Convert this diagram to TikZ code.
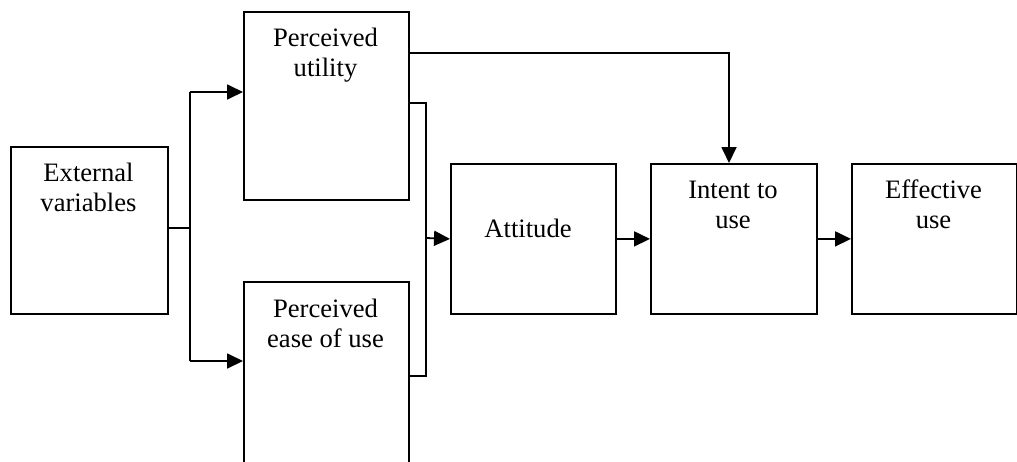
\documentclass[tikz,border=0pt]{standalone}
\usepackage{fontspec}
\setmainfont{Liberation Serif}
\usetikzlibrary{arrows.meta}
\begin{document}
\begin{tikzpicture}[x=0.5pt,y=-0.5pt,
  box/.style={draw, line width=0.9pt, inner sep=0pt, anchor=north west},
  lbl/.style={anchor=base, inner sep=0pt, font=\fontsize{13.3}{15}\selectfont},
  conn/.style={line width=0.9pt},
  arr/.style={conn, -{Triangle[length=8pt,width=7.5pt]}}]
\useasboundingbox (0,0) rectangle (1017,461);
% boxes
\node[box, minimum width=78.5pt, minimum height=83.5pt] (ext) at (10,146) {};
\node[box, minimum width=82.5pt, minimum height=94pt] (pu) at (243,11) {};
\node[box, minimum width=82.5pt, minimum height=91pt] (pe) at (243,281) {};
\node[box, minimum width=82.5pt, minimum height=75pt] (att) at (450,163) {};
\node[box, minimum width=83pt, minimum height=75pt] (int) at (650,163) {};
\node[box, minimum width=82.5pt, minimum height=75pt] (eff) at (851,163) {};
% labels
\node[lbl] (exttxt) at (88.5,181) {\begin{tabular}[t]{@{}c@{}}External\\variables\end{tabular}};
\node[lbl] (putxt) at (325.5,46) {\begin{tabular}[t]{@{}c@{}}Perceived\\utility\end{tabular}};
\node[lbl] (petxt) at (325.5,317) {\begin{tabular}[t]{@{}c@{}}Perceived\\ease of use\end{tabular}};
\node[lbl] (atttxt) at (528,237) {Attitude};
\node[lbl] (inttxt) at (733,198) {\begin{tabular}[t]{@{}c@{}}Intent to\\use\end{tabular}};
\node[lbl] (efftxt) at (933.5,198) {\begin{tabular}[t]{@{}c@{}}Effective\\use\end{tabular}};
% junction coordinates
\coordinate (split) at (190,228);
\coordinate (splitT) at (190,92);
\coordinate (splitB) at (190,361);
\coordinate (puOut) at (408,103);
\coordinate (peOut) at (408,376);
\coordinate (brT) at (426,103);
\coordinate (brB) at (426,376);
\coordinate (brM) at (426,238);
\coordinate (topA) at (408,53);
\coordinate (topB) at (729,53);
% connectors
\draw[conn] (ext.east |- split) -- (split);
\draw[conn] (splitT) -- (splitB);
\draw[arr] (splitT) -- (pu.west |- splitT);
\draw[arr] (splitB) -- (pe.west |- splitB);
\draw[conn] (puOut) -- (brT) -- (brB) -- (peOut);
\draw[arr] (brM) -- (att.west);
\draw[arr] (topA) -- (topB) -- (topB |- int.north);
\draw[arr] (att.east) -- (int.west);
\draw[arr] (int.east) -- (eff.west);
\end{tikzpicture}
\end{document}
